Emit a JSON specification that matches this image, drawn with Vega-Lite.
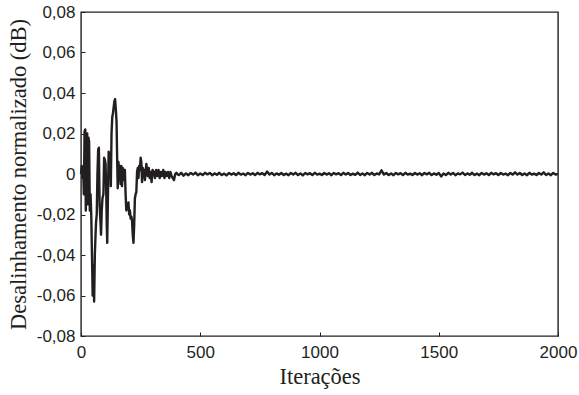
{
  "$schema": "https://vega.github.io/schema/vega-lite/v6.json",
  "width": 477,
  "height": 324,
  "autosize": {"type": "none"},
  "padding": {"left": 81, "top": 12, "right": 21, "bottom": 59},
  "background": "white",
  "config": {
    "view": {"stroke": "#231f20", "strokeWidth": 1.4},
    "axis": {"grid": false, "domain": false, "tickColor": "#231f20", "tickSize": -4, "tickWidth": 1, "labelColor": "#231f20", "labelFont": "Arial, 'Liberation Sans', sans-serif", "labelFontSize": 17, "titleFont": "'Times New Roman', 'Liberation Serif', serif", "titleFontSize": 22.5, "titleFontWeight": "normal", "titleColor": "#231f20"}
  },
  "data": {"values": [
    {"i":0,"v":0.000},{"i":3,"v":0.004},{"i":6,"v":-0.002},{"i":9,"v":0.003},{"i":12,"v":-0.010},{"i":15,"v":0.021},{"i":18,"v":0.022},{"i":20,"v":-0.018},{"i":23,"v":0.015},{"i":26,"v":0.020},{"i":28,"v":-0.015},{"i":31,"v":0.018},{"i":34,"v":0.016},{"i":37,"v":-0.018},{"i":40,"v":-0.010},{"i":43,"v":-0.020},{"i":46,"v":-0.040},{"i":49,"v":-0.060},{"i":52,"v":-0.045},{"i":55,"v":-0.063},{"i":58,"v":-0.040},{"i":61,"v":-0.030},{"i":63,"v":-0.024},{"i":66,"v":-0.020},{"i":69,"v":0.000},{"i":72,"v":0.012},{"i":75,"v":0.013},{"i":78,"v":-0.015},{"i":81,"v":-0.022},{"i":84,"v":-0.030},{"i":87,"v":-0.018},{"i":90,"v":-0.012},{"i":94,"v":-0.010},{"i":97,"v":0.008},{"i":100,"v":0.007},{"i":103,"v":0.005},{"i":106,"v":-0.010},{"i":108,"v":-0.025},{"i":110,"v":-0.034},{"i":113,"v":-0.010},{"i":116,"v":0.011},{"i":119,"v":0.008},{"i":122,"v":0.010},{"i":125,"v":-0.006},{"i":128,"v":0.020},{"i":131,"v":0.028},{"i":134,"v":0.030},{"i":137,"v":0.033},{"i":140,"v":0.036},{"i":143,"v":0.037},{"i":146,"v":0.032},{"i":149,"v":0.026},{"i":152,"v":0.005},{"i":154,"v":-0.007},{"i":157,"v":0.006},{"i":160,"v":-0.003},{"i":163,"v":0.004},{"i":166,"v":-0.005},{"i":169,"v":0.004},{"i":172,"v":-0.006},{"i":175,"v":0.003},{"i":178,"v":0.002},{"i":181,"v":-0.003},{"i":184,"v":0.002},{"i":187,"v":-0.010},{"i":190,"v":-0.018},{"i":193,"v":-0.015},{"i":196,"v":-0.017},{"i":199,"v":-0.014},{"i":202,"v":-0.020},{"i":205,"v":-0.018},{"i":208,"v":-0.022},{"i":211,"v":-0.021},{"i":214,"v":-0.023},{"i":217,"v":-0.030},{"i":220,"v":-0.034},{"i":223,"v":-0.025},{"i":226,"v":-0.012},{"i":229,"v":-0.010},{"i":232,"v":-0.009},{"i":235,"v":0.001},{"i":238,"v":0.003},{"i":241,"v":-0.002},{"i":244,"v":0.004},{"i":247,"v":0.002},{"i":250,"v":0.008},{"i":253,"v":0.006},{"i":256,"v":-0.004},{"i":259,"v":0.003},{"i":262,"v":-0.001},{"i":265,"v":0.002},{"i":268,"v":-0.003},{"i":271,"v":0.001},{"i":274,"v":0.005},{"i":277,"v":0.002},{"i":280,"v":-0.001},{"i":284,"v":0.003},{"i":288,"v":-0.002},{"i":292,"v":0.001},{"i":296,"v":-0.004},{"i":300,"v":0.002},{"i":305,"v":0.001},{"i":310,"v":-0.002},{"i":315,"v":0.002},{"i":320,"v":-0.001},{"i":325,"v":0.002},{"i":330,"v":-0.002},{"i":335,"v":0.001},{"i":340,"v":-0.001},{"i":345,"v":0.002},{"i":350,"v":-0.002},{"i":355,"v":0.001},{"i":360,"v":-0.001},{"i":365,"v":0.001},{"i":370,"v":-0.002},{"i":375,"v":0.001},{"i":380,"v":-0.001},{"i":385,"v":-0.002},{"i":390,"v":-0.003},{"i":395,"v":0.000},
    {"i":400,"v":0.0006},{"i":405,"v":-0.0002},{"i":410,"v":-0.0005},{"i":420,"v":0.0006},{"i":430,"v":-0.0008},{"i":440,"v":0.0003},{"i":450,"v":-0.0006},{"i":460,"v":0.0005},{"i":470,"v":-0.0003},{"i":480,"v":0.0007},{"i":490,"v":-0.0006},
    {"i":500,"v":0.0003},{"i":510,"v":-0.0005},{"i":520,"v":0.0006},{"i":530,"v":-0.0002},{"i":540,"v":0.0005},{"i":550,"v":-0.0006},{"i":560,"v":0.0003},{"i":570,"v":-0.0004},{"i":580,"v":0.0006},{"i":590,"v":-0.0005},
    {"i":600,"v":0.0002},{"i":610,"v":-0.0007},{"i":620,"v":0.0005},{"i":630,"v":-0.0003},{"i":640,"v":0.0004},{"i":650,"v":-0.0005},{"i":660,"v":0.0006},{"i":670,"v":-0.0003},{"i":680,"v":0.0002},{"i":690,"v":-0.0006},
    {"i":700,"v":0.0005},{"i":710,"v":-0.0003},{"i":720,"v":0.0004},{"i":730,"v":-0.0005},{"i":740,"v":0.0006},{"i":750,"v":-0.0002},{"i":760,"v":0.0004},{"i":770,"v":-0.0005},{"i":780,"v":0.0012},{"i":790,"v":-0.0003},
    {"i":800,"v":0.0005},{"i":810,"v":-0.0006},{"i":820,"v":0.0003},{"i":830,"v":-0.0004},{"i":840,"v":0.0005},{"i":850,"v":-0.0005},{"i":860,"v":0.0002},{"i":870,"v":-0.0006},{"i":880,"v":0.0005},{"i":890,"v":-0.0003},
    {"i":900,"v":0.0006},{"i":910,"v":-0.0005},{"i":920,"v":0.0003},{"i":930,"v":-0.0007},{"i":940,"v":0.0005},{"i":950,"v":-0.0002},{"i":960,"v":0.0004},{"i":970,"v":-0.0005},{"i":980,"v":0.0006},{"i":990,"v":-0.0003},
    {"i":1000,"v":0.0002},{"i":1010,"v":-0.0005},{"i":1020,"v":0.0005},{"i":1030,"v":-0.0003},{"i":1040,"v":0.0004},{"i":1050,"v":-0.0006},{"i":1060,"v":0.0005},{"i":1070,"v":-0.0002},{"i":1080,"v":0.0004},{"i":1090,"v":-0.0005},
    {"i":1100,"v":0.0006},{"i":1110,"v":-0.0003},{"i":1120,"v":0.0005},{"i":1130,"v":-0.0005},{"i":1140,"v":0.0002},{"i":1150,"v":-0.0004},{"i":1160,"v":0.0007},{"i":1170,"v":-0.0005},{"i":1180,"v":0.0003},{"i":1190,"v":-0.0006},
    {"i":1200,"v":0.0005},{"i":1210,"v":-0.0003},{"i":1220,"v":0.0006},{"i":1230,"v":-0.0005},{"i":1240,"v":0.0003},{"i":1250,"v":-0.0002},{"i":1260,"v":0.0018},{"i":1270,"v":-0.0003},{"i":1280,"v":0.0005},{"i":1290,"v":-0.0005},
    {"i":1300,"v":0.0003},{"i":1310,"v":-0.0006},{"i":1320,"v":0.0005},{"i":1330,"v":-0.0002},{"i":1340,"v":0.0004},{"i":1350,"v":-0.0005},{"i":1360,"v":0.0006},{"i":1370,"v":-0.0003},{"i":1380,"v":0.0002},{"i":1390,"v":-0.0005},
    {"i":1400,"v":0.0005},{"i":1410,"v":-0.0003},{"i":1420,"v":0.0004},{"i":1430,"v":-0.0006},{"i":1440,"v":0.0005},{"i":1450,"v":-0.0002},{"i":1460,"v":0.0006},{"i":1470,"v":-0.0005},{"i":1480,"v":0.0003},{"i":1490,"v":-0.0004},
    {"i":1500,"v":0.0005},{"i":1510,"v":-0.0012},{"i":1520,"v":0.0003},{"i":1530,"v":-0.0005},{"i":1540,"v":0.0006},{"i":1550,"v":-0.0003},{"i":1560,"v":0.0005},{"i":1570,"v":-0.0006},{"i":1580,"v":0.0003},{"i":1590,"v":-0.0002},
    {"i":1600,"v":0.0007},{"i":1610,"v":-0.0005},{"i":1620,"v":0.0003},{"i":1630,"v":-0.0004},{"i":1640,"v":0.0006},{"i":1650,"v":-0.0005},{"i":1660,"v":0.0002},{"i":1670,"v":-0.0006},{"i":1680,"v":0.0005},{"i":1690,"v":-0.0003},
    {"i":1700,"v":0.0004},{"i":1710,"v":-0.0005},{"i":1720,"v":0.0006},{"i":1730,"v":-0.0002},{"i":1740,"v":0.0004},{"i":1750,"v":-0.0005},{"i":1760,"v":0.0005},{"i":1770,"v":-0.0003},{"i":1780,"v":0.0002},{"i":1790,"v":-0.0006},
    {"i":1800,"v":0.0005},{"i":1810,"v":-0.0003},{"i":1820,"v":0.0008},{"i":1830,"v":-0.0003},{"i":1840,"v":0.0005},{"i":1850,"v":-0.0005},{"i":1860,"v":0.0003},{"i":1870,"v":-0.0006},{"i":1880,"v":0.0006},{"i":1890,"v":-0.0003},
    {"i":1900,"v":0.0002},{"i":1910,"v":-0.0005},{"i":1920,"v":0.0005},{"i":1930,"v":-0.0003},{"i":1940,"v":0.0008},{"i":1950,"v":-0.0005},{"i":1960,"v":0.0003},{"i":1970,"v":-0.0006},{"i":1980,"v":0.0005},{"i":1990,"v":-0.0003},{"i":2000,"v":0.0001}
  ]},
  "mark": {"type": "line", "color": "#231f20", "strokeWidth": 2.4, "strokeJoin": "round"},
  "encoding": {
    "x": {"field": "i", "type": "quantitative", "scale": {"domain": [0, 2000], "nice": false, "zero": false},
      "axis": {"title": "Iterações", "values": [0, 500, 1000, 1500, 2000], "format": "d", "labelPadding": 12, "titlePadding": 5, "labelFlush": false}},
    "y": {"field": "v", "type": "quantitative", "scale": {"domain": [-0.08, 0.08], "nice": false},
      "axis": {"title": "Desalinhamento normalizado (dB)", "values": [-0.08, -0.06, -0.04, -0.02, 0, 0.02, 0.04, 0.06, 0.08],
        "labelExpr": "abs(datum.value) < 1e-9 ? '0' : (datum.value < 0 ? '-' : '') + replace(format(abs(datum.value), '.2f'), '.', ',')",
        "labelPadding": 10, "titlePadding": 6, "labelFlush": false}}
  }
}
